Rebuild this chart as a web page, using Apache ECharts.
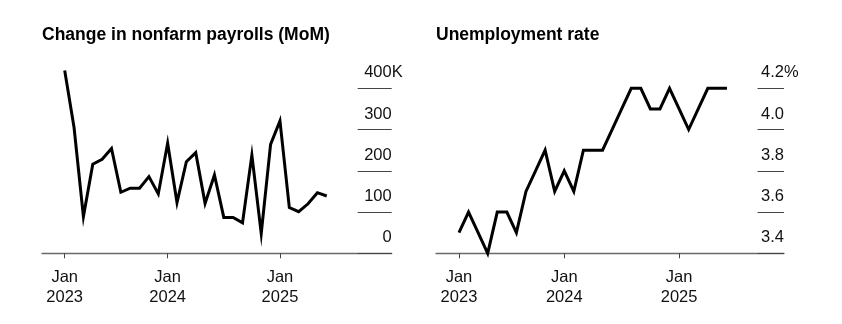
<!DOCTYPE html>
<html><head><meta charset="utf-8">
<script src="https://cdn.jsdelivr.net/npm/echarts@6/dist/echarts.min.js"></script>
<style>html,body{margin:0;padding:0;background:#fff}#c{width:842px;height:324px}</style>
</head><body><div id="c"></div>
<script>
const months = ['2023-01','2023-02','2023-03','2023-04','2023-05','2023-06','2023-07','2023-08','2023-09','2023-10','2023-11','2023-12',
  '2024-01','2024-02','2024-03','2024-04','2024-05','2024-06','2024-07','2024-08','2024-09','2024-10','2024-11','2024-12',
  '2025-01','2025-02','2025-03','2025-04','2025-05'];
const payrolls = [443, 305, 89, 216, 228, 254, 148, 158, 158, 186, 144, 267, 123, 222, 244, 121, 190, 87, 87, 74, 238, 48, 264, 321, 111, 101, 120, 147, 139];
const unemployment = [3.5, 3.6, 3.5, 3.4, 3.6, 3.6, 3.5, 3.7, 3.8, 3.9, 3.7, 3.8, 3.7, 3.9, 3.9, 3.9, 4.0, 4.1, 4.2, 4.2, 4.1, 4.1, 4.2, 4.1, 4.0, 4.1, 4.2, 4.2, 4.2];
const tickIndex = [0, 11, 23];
const tickLabels = ['Jan\n2023', 'Jan\n2024', 'Jan\n2025'];
const titles = ['Change in nonfarm payrolls (MoM)', 'Unemployment rate'];
const payrollUnit = 'K';
const rateUnit = '%';

const FONT = '"Liberation Sans", Arial, Helvetica, sans-serif';
const TXT = '#111';
const FS = 16.5;
const chart = echarts.init(document.getElementById('c'), null, {renderer: 'canvas'});

function xAxis(gridIndex, min, max) {
  return {
    type: 'value', gridIndex, min, max,
    splitLine: {show: false},
    axisLine: {show: true, onZero: false, lineStyle: {color: '#6a6a6a', width: 1.3}},
    axisTick: {show: true, customValues: tickIndex, length: 5, lineStyle: {color: '#444', width: 1}},
    axisLabel: {
      customValues: tickIndex, margin: 14, fontSize: FS, lineHeight: 20, color: TXT, fontFamily: FONT,
      formatter: v => tickLabels[tickIndex.indexOf(Math.round(v))] || ''
    }
  };
}
function richStyles() {
  return {
    n: {align: 'left', fontSize: FS, lineHeight: 31, color: TXT, fontFamily: FONT},
    u: {align: 'left', width: 0, fontSize: FS, lineHeight: 31, color: TXT, fontFamily: FONT}
  };
}
function yAxis(gridIndex, min, max, interval, tickLen, fmt) {
  return {
    type: 'value', gridIndex, position: 'right', min, max, interval,
    splitLine: {show: false},
    axisLine: {show: false, onZero: false},
    axisTick: {show: true, inside: true, length: tickLen, lineStyle: {color: '#444', width: 1}},
    axisLabel: {
      inside: true, margin: 0, verticalAlign: 'bottom', lineHeight: 31, fontSize: FS, color: TXT, fontFamily: FONT,
      formatter: fmt, rich: richStyles()
    }
  };
}

const option = {
  animation: false,
  backgroundColor: '#fff',
  title: [
    {text: titles[0], left: 42, top: 26.5, padding: 0, textStyle: {fontFamily: FONT, fontSize: 17.5, fontWeight: 'bold', color: '#000'}},
    {text: titles[1], left: 436, top: 26.5, padding: 0, textStyle: {fontFamily: FONT, fontSize: 17.5, fontWeight: 'bold', color: '#000'}}
  ],
  grid: [
    {left: 42, right: 450.3, top: 88.3, bottom: 70.7, containLabel: false, outerBoundsMode: 'none'},
    {left: 436, right: 58, top: 88.3, bottom: 70.7, containLabel: false, outerBoundsMode: 'none'}
  ],
  xAxis: [xAxis(0, -2.425, 34.94), xAxis(1, -2.40, 33.96)],
  yAxis: [
    yAxis(0, 0, 400, 100, 34, v => v === 400 ? '{n|' + v + '}{u|' + payrollUnit + '}' : '{n|' + v + '}'),
    yAxis(1, 3.4, 4.2, 0.2, 26.5, v => Math.abs(v - 4.2) < 1e-6 ? '{n|' + v.toFixed(1) + '}{u|' + rateUnit + '}' : '{n|' + v.toFixed(1) + '}')
  ],
  series: [
    {type: 'line', xAxisIndex: 0, yAxisIndex: 0, symbol: 'none', silent: true, clip: false,
     lineStyle: {color: '#000', width: 3, join: 'miter'},
     data: months.map((m, i) => [i, payrolls[i]])},
    {type: 'line', xAxisIndex: 1, yAxisIndex: 1, symbol: 'none', silent: true, clip: false,
     lineStyle: {color: '#000', width: 3, join: 'miter'},
     data: months.map((m, i) => [i, unemployment[i]])}
  ]
};
chart.setOption(option);
</script></body></html>
